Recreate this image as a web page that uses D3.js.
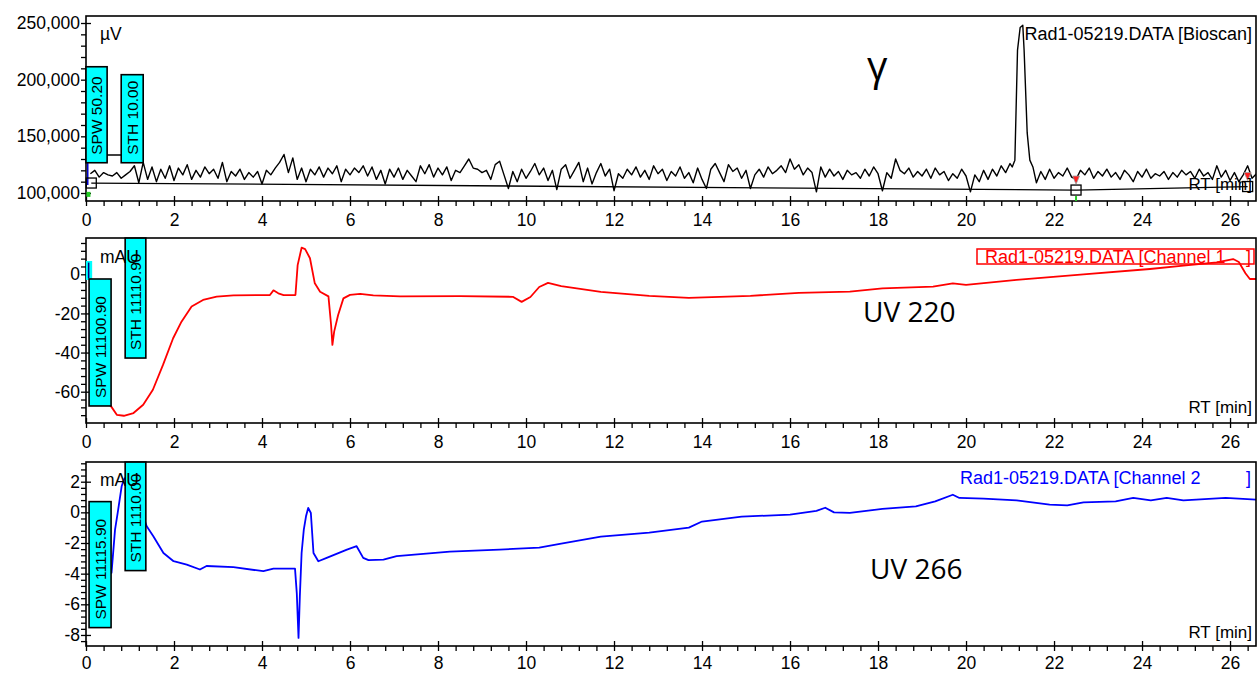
<!DOCTYPE html>
<html><head><meta charset="utf-8">
<script src="https://cdn.jsdelivr.net/npm/d3@7"></script>
<style>
body{margin:0;background:#fff}
svg{display:block}
text{font-family:"Liberation Sans",Arial,sans-serif;fill:#000}
</style>
</head><body>
<svg id="c" width="1258" height="673"></svg>
<script>
// ---------------- DATA ----------------
const timeMajorTicks = [0,2,4,6,8,10,12,14,16,18,20,22,24,26];
const bioscanYTicks = [100,150,200,250];          // thousand µV
const ch1YTicks = [-60,-40,-20,0];                 // mAU
const ch2YTicks = [-8,-6,-4,-2,0,2];               // mAU

// Bioscan (γ) trace, thousand µV, sampled every 0.1 min from 0.1 to 21.0 min
const bioscanNoiseA = [
117,120,114,118,116,115,118,113,116,119,
124,109,127,112,123,110,121,113,124,111,
122,116,125,112,120,114,123,117,121,113,
127,110,119,115,121,112,118,114,119,108,
120,116,122,127,134,118,131,112,122,110,
121,116,123,114,122,117,124,110,121,116,
122,118,124,115,123,112,120,108,121,114,
122,112,120,115,110,124,117,125,114,122,
116,123,111,120,118,124,130,122,121,118,
120,112,125,128,116,104,119,110,121,113,
119,126,116,122,111,120,103,121,125,113,
120,127,110,122,108,118,126,115,121,102,
117,113,121,116,123,114,120,112,124,117,
121,111,119,115,123,113,118,109,122,112,
104,121,126,118,110,125,119,122,113,120,
104,116,121,114,123,117,120,124,118,130,
121,125,116,122,118,101,123,114,121,115,
119,112,120,116,118,113,121,115,123,117,
102,118,113,130,120,117,122,114,119,115,
121,113,122,116,119,111,117,113,121,115,
101,116,110,120,112,121,115,124,118,126];
// radio peak
const bioscanPeak = [[21.05,123],[21.11,129],[21.17,226],[21.23,246],[21.29,248],[21.32,226],[21.39,153],[21.45,129],[21.52,123]];
// trace every 0.1 min from 21.6 to 26.6 min
const bioscanNoiseB = [
109,119,112,121,113,118,115,122,114,112,
120,116,122,113,119,115,121,114,118,112,
120,116,110,119,114,121,113,117,115,119,
112,118,114,120,116,119,113,121,115,118,
112,124,114,120,111,118,110,116,124,113,117];
const bioscanBaseline = [[0.12,108.8],[22.5,102.6],[26.4,105.7]];
const bioscanThreshold = [[0,133.5],[1.3,133.5]];

// UV 220 (Channel 1), mAU
const ch1 = [[0.1,-2],[0.3,-50],[0.5,-66],[0.57,-67.5],[0.7,-71.8],[0.86,-72.3],[1.08,-70.9],[1.3,-66.7],
[1.52,-59],[1.75,-46.3],[1.98,-32.7],[2.17,-24.2],[2.4,-16.5],[2.66,-13.1],[2.97,-11.4],[3.35,-10.8],
[4.18,-10.6],[4.26,-8.2],[4.37,-9.7],[4.49,-10.6],[4.76,-10.6],[4.81,4.7],[4.9,13.6],[4.98,12.9],
[5.09,8.2],[5.2,-4.6],[5.32,-8.9],[5.51,-11.3],[5.57,-25.9],[5.6,-36.1],[5.64,-29.3],[5.73,-20.8],
[5.85,-12.3],[6.0,-10.5],[6.23,-10],[6.53,-10.8],[7.14,-11.3],[8.5,-11.2],[9.7,-11.5],[9.9,-14.1],
[10.1,-11.6],[10.3,-6.5],[10.5,-4.4],[10.8,-6],[11.7,-9],[12.8,-11],[13.7,-12.1],[15.1,-11],
[16.2,-9.5],[17.36,-8.9],[18.1,-7.2],[19.25,-6.3],[19.7,-4.6],[20.0,-5.4],[21.15,-2.9],[22.67,0],
[24.18,2.7],[24.94,4.4],[25.7,6.1],[26.07,7.8],[26.2,6.3],[26.35,0.5],[26.45,-2.4],[26.6,-2.4]];

// UV 266 (Channel 2), mAU
const ch2 = [[0.08,0.5],[0.3,-2.5],[0.5,-3.9],[0.58,-3.95],[0.66,-1.13],[0.72,-0.04],[0.81,1.7],[0.86,2.13],
[1.0,2.6],[1.2,0.5],[1.38,-0.91],[1.53,-1.56],[1.76,-2.65],[1.99,-3.19],[2.29,-3.41],[2.59,-3.73],
[2.74,-3.5],[3.35,-3.58],[4.03,-3.84],[4.26,-3.67],[4.75,-3.67],[4.79,-5.25],[4.83,-8.19],[4.86,-5.47],
[4.9,-2.65],[4.95,-1.13],[5.0,-0.26],[5.05,0.29],[5.11,-0.04],[5.17,-2.65],[5.28,-3.19],[5.47,-2.97],
[5.93,-2.43],[6.15,-2.21],[6.3,-2.97],[6.42,-3.12],[6.76,-3.08],[7.06,-2.86],[8.27,-2.56],[9.4,-2.43],
[10.3,-2.3],[10.8,-2.04],[11.7,-1.58],[12.8,-1.32],[13.7,-1.0],[14.0,-0.6],[14.9,-0.28],[16.0,-0.15],
[16.6,0.1],[16.8,0.3],[17.0,0.0],[17.36,-0.04],[18.1,0.22],[18.86,0.39],[19.3,0.72],[19.7,1.15],
[19.85,0.94],[20.4,0.9],[21.15,0.78],[21.9,0.5],[22.3,0.46],[22.67,0.65],[23.4,0.72],[23.8,0.94],
[24.2,0.78],[24.56,0.94],[24.94,0.78],[25.9,0.94],[26.6,0.83]];

// parameter annotation boxes: [label, t0, t1, vTop, vBottom]
const bioscanParams = [["SPW 50.20",0,0.48,211.4,126.7],["STH 10.00",0.8,1.3,204.4,126.7]];
const ch1Params = [["SPW 11100.90",0.07,0.57,-2.4,-67.3],["STH 11110.90",0.89,1.36,18.5,-42.8]];
const ch2Params = [["SPW 11115.90",0.07,0.57,0.7,-7.52],["STH 1110.00",0.89,1.36,3.28,-3.8]];

// ---------------- BUILD ----------------
const bioscan = [];
bioscanNoiseA.forEach((v,i)=>bioscan.push([+(0.1+i*0.1).toFixed(2), v]));
bioscanPeak.forEach(p=>bioscan.push(p));
bioscanNoiseB.forEach((v,i)=>bioscan.push([+(21.6+i*0.1).toFixed(2), v]));

const svg = d3.select("#c");
const L = 86, R = 1256;
const x = d3.scaleLinear().domain([0,26.59]).range([L,R]);
const xMinor = d3.range(0,26.6,0.4).map(d=>+d.toFixed(1)).filter(d=>Math.abs(d/2-Math.round(d/2))>1e-6);

const panels = [
  {top:16,bottom:201,domain:[92.94,256.18],data:bioscan,color:"#000",width:1.4,labelY:25,
   major:bioscanYTicks,minor:d3.range(100,256,10).filter(d=>d%50!==0),fmt:d=>d3.format(",")(d*1000),
   params:bioscanParams},
  {top:238,bottom:423,domain:[-76,18.55],data:ch1,color:"#ff0000",width:1.8,labelY:25,
   major:ch1YTicks,minor:d3.range(-72,17,4).filter(d=>d%20!==0),fmt:d=>String(d),params:ch1Params},
  {top:462,bottom:646,domain:[-8.72,3.285],data:ch2,color:"#0000ff",width:1.8,labelY:22.5,
   major:ch2YTicks,minor:d3.range(-8.4,3.3,0.4).map(d=>+d.toFixed(1)).filter(d=>Math.abs(d/2-Math.round(d/2))>1e-6),
   fmt:d=>String(d),params:ch2Params}
];

const FS = 17.5;
panels.forEach((p,i)=>{
  const y = d3.scaleLinear().domain(p.domain).range([p.bottom,p.top]);
  p.y = y;
  const g = svg.append("g");
  const clipId = "clip"+i;
  svg.append("clipPath").attr("id",clipId).append("rect")
    .attr("x",L).attr("y",p.top).attr("width",R-L).attr("height",p.bottom-p.top);

  // trace
  g.append("path").datum(p.data)
    .attr("clip-path",`url(#${clipId})`)
    .attr("fill","none").attr("stroke",p.color).attr("stroke-width",p.width)
    .attr("stroke-linejoin","round")
    .attr("d",d3.line().x(d=>x(d[0])).y(d=>y(d[1])));

  // frame
  svg.append("rect").attr("x",L).attr("y",p.top).attr("width",R-L).attr("height",p.bottom-p.top)
    .attr("fill","none").attr("stroke","#000").attr("stroke-width",1.6);

  // x axes
  const ax = svg.append("g").attr("transform",`translate(0,${p.bottom})`);
  ax.call(d3.axisBottom(x).tickValues(timeMajorTicks).tickSize(5).tickFormat(d=>String(d)));
  ax.selectAll("text").attr("dy",null).attr("y",p.labelY).style("font-size",FS+"px").style("font-family","'Liberation Sans',Arial,sans-serif");
  svg.append("g").attr("transform",`translate(0,${p.bottom})`)
    .call(d3.axisTop(x).tickValues(timeMajorTicks).tickSize(5).tickFormat(""));
  svg.append("g").attr("transform",`translate(0,${p.bottom})`)
    .call(d3.axisBottom(x).tickValues(xMinor).tickSize(5).tickFormat(""));

  // y axes
  const ay = svg.append("g").attr("transform",`translate(${L},0)`);
  ay.call(d3.axisLeft(y).tickValues(p.major).tickSize(5).tickPadding(1).tickFormat(p.fmt));
  ay.selectAll("text").style("font-size",FS+"px").style("font-family","'Liberation Sans',Arial,sans-serif");
  svg.append("g").attr("transform",`translate(${L},0)`)
    .call(d3.axisRight(y).tickValues(p.major).tickSize(5).tickFormat(""));
  svg.append("g").attr("transform",`translate(${L},0)`)
    .call(d3.axisLeft(y).tickValues(p.minor).tickSize(5).tickFormat(""));
});
svg.selectAll(".domain").remove();
svg.selectAll(".tick line").attr("stroke","#000").attr("stroke-width",1.3);

const pB = panels[0], p1 = panels[1], p2 = panels[2];

// bioscan baseline + markers
svg.append("path").datum(bioscanBaseline).attr("fill","none").attr("stroke","#000").attr("stroke-width",1.3)
  .attr("d",d3.line().x(d=>x(d[0])).y(d=>pB.y(d[1])));
svg.append("path").datum(bioscanThreshold).attr("fill","none").attr("stroke","#000").attr("stroke-width",1.5)
  .attr("d",d3.line().x(d=>x(d[0])).y(d=>pB.y(d[1])));
svg.append("rect").attr("x",x(0.01)).attr("y",pB.y(101)).attr("width",4).attr("height",5).attr("fill","#22cc22");
svg.append("line").attr("x1",x(0.04)).attr("x2",x(0.04)).attr("y1",pB.y(128)).attr("y2",pB.y(107))
  .attr("stroke","#0000cc").attr("stroke-width",1.5);
bioscanBaseline.forEach((d,i)=>{
  const cx = x(d[0]), cy = pB.y(d[1]);
  svg.append("rect").attr("x",cx-5).attr("y",cy-5).attr("width",10).attr("height",10)
    .attr("fill","none").attr("stroke","#000").attr("stroke-width",1.3);
  if(i>0){
    svg.append("path").attr("d",`M${cx-3.5},${cy-14}L${cx+3.5},${cy-14}L${cx},${cy-6}Z`)
      .attr("fill","#ff2020").attr("stroke","#999").attr("stroke-width",0.8);
  }
  if(i===1){
    svg.append("line").attr("x1",cx).attr("x2",cx).attr("y1",cy+6).attr("y2",pB.bottom)
      .attr("stroke","#22cc22").attr("stroke-width",2);
  }
});

// channel 1 start marker
svg.append("rect").attr("x",x(0)).attr("y",p1.y(6.8)).attr("width",x(0.14)-x(0)).attr("height",p1.y(-2.9)-p1.y(6.8))
  .attr("fill","#00ffff");
svg.append("line").attr("x1",x(0.06)).attr("x2",x(0.06)).attr("y1",p1.y(6)).attr("y2",p1.y(-2))
  .attr("stroke","#000080").attr("stroke-width",1.5);

// parameter boxes
panels.forEach(p=>{
  p.params.forEach(b=>{
    const x0 = x(b[1]), x1 = x(b[2]), y0 = p.y(b[3]), y1 = p.y(b[4]);
    svg.append("rect").attr("x",x0).attr("y",y0).attr("width",x1-x0).attr("height",y1-y0)
      .attr("fill","#00ffff").attr("stroke","#000").attr("stroke-width",1.6);
    svg.append("text").attr("transform",`translate(${(x0+x1)/2},${y1-8}) rotate(-90)`)
      .attr("dy","0.36em").style("font-size","15.5px").text(b[0]);
  });
});

// unit labels (drawn over the boxes, as in the original)
svg.append("text").attr("x",100).attr("y",40).style("font-size","17.5px").text("µV");
svg.append("text").attr("x",100).attr("y",263).style("font-size","17.5px").text("mAU");
svg.append("text").attr("x",100).attr("y",486).style("font-size","17.5px").text("mAU");

// titles
svg.append("text").attr("x",1252).attr("y",40).attr("text-anchor","end").style("font-size","18px")
  .text("Rad1-05219.DATA [Bioscan]");
svg.append("rect").attr("x",977).attr("y",249).attr("width",277).attr("height",15)
  .attr("fill","none").attr("stroke","#ff0000").attr("stroke-width",1.5);
svg.append("text").attr("x",985).attr("y",262.5).style("font-size","18px").style("fill","#ff0000")
  .text("Rad1-05219.DATA [Channel 1");
svg.append("text").attr("x",1246).attr("y",262.5).style("font-size","18px").style("fill","#ff0000").text("]");
svg.append("text").attr("x",960).attr("y",484).style("font-size","18px").style("fill","#0000ff")
  .text("Rad1-05219.DATA [Channel 2");
svg.append("text").attr("x",1246).attr("y",484).style("font-size","18px").style("fill","#0000ff").text("]");

// RT labels
[190,413,638].forEach(yy=>{
  svg.append("text").attr("x",1252).attr("y",yy).attr("text-anchor","end").style("font-size","17px").text("RT [min]");
});

// big annotations
svg.append("text").attr("x",867).attr("y",80).style("font-family","'Open Sans',sans-serif").style("font-size","40px").text("γ");
svg.append("text").attr("x",863).attr("y",322).style("font-family","'Open Sans',sans-serif").style("font-size","28px").text("UV 220");
svg.append("text").attr("x",870).attr("y",579).style("font-family","'Open Sans',sans-serif").style("font-size","28px").text("UV 266");
</script>
</body></html>
